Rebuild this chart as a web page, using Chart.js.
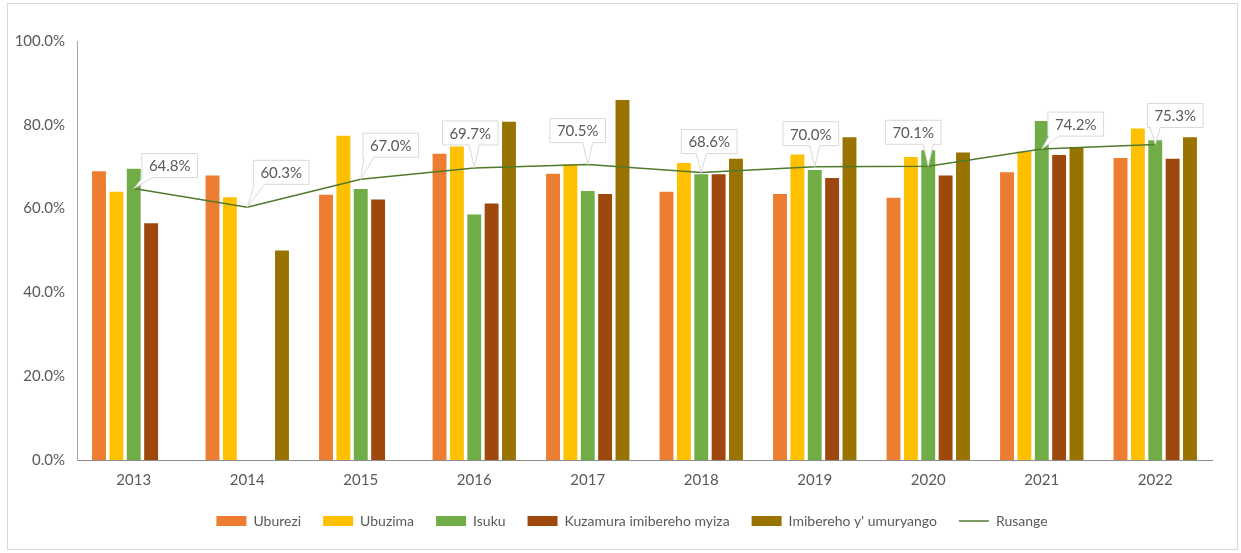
<!DOCTYPE html>
<html>
<head>
<meta charset="utf-8">
<script src="https://cdn.jsdelivr.net/npm/chart.js@4/dist/chart.umd.min.js"></script>
<style>
  html, body { margin: 0; padding: 0; background: #fff; }
  #wrap { width: 1241px; height: 553px; }
</style>
</head>
<body>
<div id="wrap"><canvas id="chart" width="1241" height="553"></canvas></div>
<script>
// years on the x axis
const years = ['2013', '2014', '2015', '2016', '2017', '2018', '2019', '2020', '2021', '2022'];

// bar series (percent)
const uburezi   = [68.9, 67.9, 63.3, 73.1, 68.3, 64.0, 63.5, 62.6, 68.7, 72.1];
const ubuzima   = [64.0, 62.7, 77.4, 74.8, 70.6, 70.9, 72.9, 72.3, 73.6, 79.1];
const isuku     = [69.5, null, 64.7, 58.6, 64.2, 68.2, 69.2, 73.9, 80.9, 76.3];
const kuzamura  = [56.5, null, 62.2, 61.2, 63.5, 68.2, 67.3, 67.9, 72.8, 71.9];
const imibereho = [null, 50.0, null, 80.7, 85.9, 71.9, 77.0, 73.4, 74.7, 77.0];

// overall line
const rusange = [64.8, 60.3, 67.0, 69.7, 70.5, 68.6, 70.0, 70.1, 74.2, 75.3];

const yTicks = [0, 20, 40, 60, 80, 100];

// where each callout box sits relative to its point (dx of box centre, gap above point)
const calloutShift = [[36, 11], [34, 23], [30, 22], [-4, 23], [-10, 22], [8, 19], [-4, 21], [-15, 22], [34, 13], [20, 17]];

const txt = '#595959';
const font = 'Lato, "Open Sans", sans-serif';

// callout labels on the line
const callouts = {
  id: 'callouts',
  afterDatasetsDraw(chart) {
    const ctx = chart.ctx;
    const meta = chart.getDatasetMeta(5);
    ctx.save();
    ctx.font = '15px ' + font;
    meta.data.forEach((pt, i) => {
      const label = rusange[i].toFixed(1) + '%';
      const w = ctx.measureText(label).width + 14;
      const h = 24;
      const bx = pt.x + calloutShift[i][0] - w / 2;
      const by = pt.y - calloutShift[i][1] - h;
      // pointer base on the bottom edge
      let base = Math.min(Math.max(pt.x, bx + 6), bx + w - 6);
      const b1 = Math.max(base - 5, bx), b2 = Math.min(base + 5, bx + w);
      ctx.beginPath();
      ctx.moveTo(bx, by);
      ctx.lineTo(bx + w, by);
      ctx.lineTo(bx + w, by + h);
      ctx.lineTo(b2, by + h);
      ctx.lineTo(pt.x, pt.y);
      ctx.lineTo(b1, by + h);
      ctx.lineTo(bx, by + h);
      ctx.closePath();
      ctx.fillStyle = '#ffffff';
      ctx.fill();
      ctx.strokeStyle = '#d9d9d9';
      ctx.lineWidth = 1;
      ctx.stroke();
      ctx.fillStyle = txt;
      ctx.textAlign = 'center';
      ctx.textBaseline = 'middle';
      ctx.fillText(label, bx + w / 2, by + h / 2 + 1);
    });
    ctx.restore();
  }
};

// outer frame, and nudge the legend to sit a bit right of centre like the original
const frame = {
  id: 'frame',
  afterLayout(chart) {
    chart.legend.left += 26;
    chart.legend.right += 26;
  },
  beforeDraw(chart) {
    const ctx = chart.ctx;
    ctx.save();
    ctx.fillStyle = '#fff';
    ctx.fillRect(0, 0, chart.width, chart.height);
    ctx.strokeStyle = '#d9d9d9';
    ctx.lineWidth = 1;
    ctx.strokeRect(7.5, 3.5, 1230, 546);
    ctx.restore();
  }
};

function bar(label, data, color) {
  return {
    type: 'bar',
    label: label,
    data: data,
    backgroundColor: color,
    borderWidth: 0,
    categoryPercentage: 0.765,
    barPercentage: 0.8,
    order: 1
  };
}

new Chart(document.getElementById('chart'), {
  data: {
    labels: years,
    datasets: [
      bar('Uburezi', uburezi, '#ED7D31'),
      bar('Ubuzima', ubuzima, '#FFC000'),
      bar('Isuku', isuku, '#70AD47'),
      bar('Kuzamura imibereho myiza', kuzamura, '#9E480E'),
      bar("Imibereho y' umuryango", imibereho, '#997300'),
      {
        type: 'line',
        label: 'Rusange',
        data: rusange,
        borderColor: '#4F7A2B',
        backgroundColor: '#4F7A2B',
        borderWidth: 1.5,
        pointRadius: 0,
        tension: 0,
        order: -1
      }
    ]
  },
  options: {
    responsive: false,
    animation: false,
    devicePixelRatio: 1,
    layout: { padding: { top: 41, right: 29, bottom: 15, left: 0 } },
    scales: {
      x: {
        grid: { display: false },
        border: { display: true, color: '#8c8c8c', width: 1 },
        ticks: { color: txt, font: { family: font, size: 15 }, padding: 3 }
      },
      y: {
        min: 0,
        max: 100,
        afterFit: s => { s.width = 77; },
        afterBuildTicks: s => { s.ticks = yTicks.map(v => ({ value: v })); },
        grid: { display: false },
        border: { display: true, color: '#a6a6a6', width: 1 },
        ticks: {
          color: txt,
          font: { family: font, size: 15 },
          padding: 4,
          callback: v => v.toFixed(1) + '%'
        }
      }
    },
    plugins: {
      tooltip: { enabled: false },
      legend: {
        position: 'bottom',
        labels: {
          color: txt,
          font: { family: font, size: 14 },
          usePointStyle: true,
          pointStyleWidth: 30,
          boxHeight: 10,
          padding: 22,
          sort: (a, b) => a.datasetIndex - b.datasetIndex,
          generateLabels: chart => Chart.defaults.plugins.legend.labels.generateLabels(chart).map(l => {
            l.pointStyle = l.datasetIndex === 5 ? 'line' : 'rect';
            return l;
          })
        }
      }
    }
  },
  plugins: [frame, callouts]
});
</script>
</body>
</html>
